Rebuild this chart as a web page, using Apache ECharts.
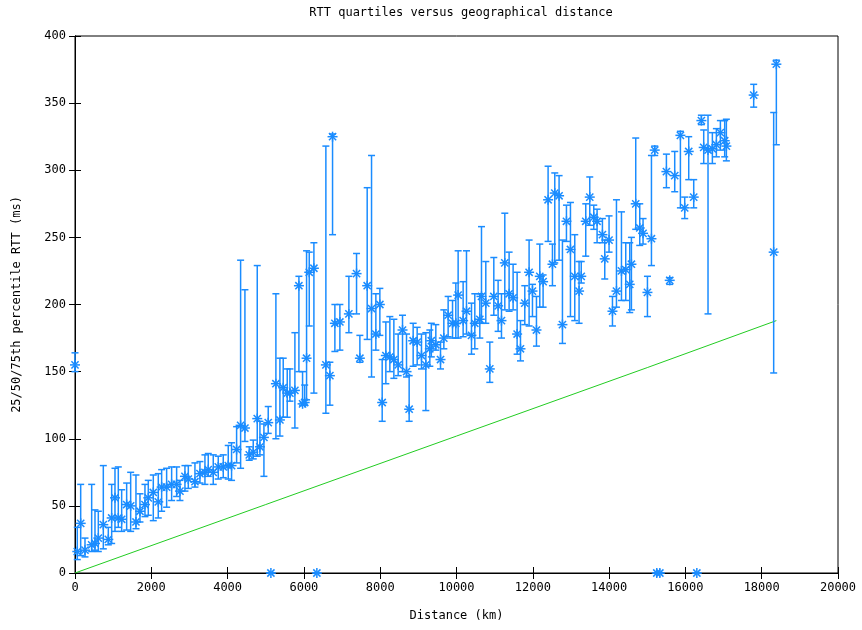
<!DOCTYPE html>
<html>
<head>
<meta charset="utf-8">
<script src="https://cdn.jsdelivr.net/npm/echarts@6/dist/echarts.min.js"></script>
<style>
  html, body { margin: 0; padding: 0; background: #fff; }
  #chart { width: 862px; height: 630px; }
</style>
</head>
<body>
<div id="chart"></div>
<script>
// distance (km) and RTT quartiles (ms)
var distKm = [0, 60, 149, 262, 437, 524, 611, 742, 873, 961, 1048, 1135, 1223, 1354, 1459, 1598, 1703, 1834, 1921, 2052,
  2183, 2271, 2402, 2533, 2664, 2751, 2882, 2970, 3144, 3275, 3406, 3493, 3624, 3755, 3886, 4017, 4104, 4236, 4341, 4454,
  4567, 4672, 4777, 4847, 4952, 5065, 5135, 5266, 5371, 5458, 5563, 5633, 5764, 5869, 5965, 6020, 6070, 6140, 6262, 6340,
  6576, 6681, 6751, 6812, 6943, 7179, 7380, 7467, 7659, 7773, 7886, 7991, 8052, 8148, 8253, 8358, 8471, 8585, 8690, 8759,
  8864, 8969, 9082, 9196, 9301, 9340, 9458, 9581, 9668, 9781, 9896, 9982, 10043, 10174, 10262, 10393, 10480, 10611, 10655, 10768,
  10873, 10978, 11091, 11179, 11266, 11379, 11484, 11589, 11677, 11790, 11903, 11991, 12096, 12183, 12270, 12401, 12515, 12576, 12689, 12777,
  12882, 12987, 13100, 13213, 13270, 13388, 13493, 13598, 13685, 13825, 13886, 13999, 14088, 14193, 14324, 14436, 14541, 14585, 14698, 14803,
  14890, 15005, 15110, 15196, 15250, 15330, 15502, 15589, 15720, 15869, 15982, 16087, 16218, 16300, 16419, 16480, 16593, 16707, 16812, 16917,
  17030, 17074, 17790, 18314, 18384];
var rttQ25 = [150, 10, 13, 12, 16, 17, 16, 18, 21, 22, 31, 34, 31, 32, 31, 33, 38, 42, 43, 39,
  41, 46, 49, 54, 57, 54, 61, 63, 64, 67, 66, 72, 66, 70, 71, 70, 69, 82, 78, 98,
  84, 85, 87, 88, 72, 104, 0, 100, 102, 116, 116, 128, 108, 150, 125, 125, 129, 184, 134, 0,
  119, 125, 252, 165, 166, 179, 193, 157, 174, 146, 166, 177, 113, 141, 150, 145, 147, 150, 146, 113,
  154, 155, 152, 121, 154, 161, 166, 152, 167, 176, 175, 175, 175, 176, 178, 163, 167, 175, 186, 186,
  142, 192, 180, 175, 196, 195, 196, 163, 158, 185, 184, 191, 169, 198, 198, 247, 214, 231, 233, 171,
  247, 191, 188, 186, 216, 236, 259, 256, 246, 246, 219, 239, 184, 198, 203, 203, 194, 196, 256, 244,
  245, 191, 229, 311, 0, 0, 287, 215, 284, 272, 264, 293, 272, 0, 334, 305, 193, 305, 310, 315,
  310, 307, 347, 149, 319];
var rttMedian = [155, 16, 37, 17, 21, 22, 26, 36, 25, 41, 56, 41, 40, 51, 50, 38, 46, 51, 56, 60,
  53, 64, 64, 66, 66, 61, 72, 70, 68, 74, 75, 77, 75, 79, 79, 80, 80, 92, 110, 108,
  88, 90, 115, 94, 101, 112, 0, 141, 114, 138, 134, 134, 136, 214, 126, 127, 160, 224, 227, 0,
  155, 147, 325, 186, 187, 193, 223, 160, 214, 197, 178, 200, 127, 162, 161, 159, 155, 181, 150, 122,
  173, 172, 162, 155, 167, 173, 170, 159, 175, 192, 186, 186, 207, 188, 195, 177, 186, 189, 206, 201,
  152, 206, 199, 188, 231, 208, 205, 178, 167, 201, 224, 210, 181, 221, 217, 278, 230, 283, 281, 185,
  262, 241, 221, 210, 221, 262, 280, 265, 262, 252, 234, 248, 195, 210, 225, 226, 215, 230, 275, 257,
  253, 209, 249, 315, 0, 0, 299, 218, 296, 326, 272, 314, 280, 0, 337, 317, 315, 316, 319, 328,
  322, 318, 356, 239, 379];
var rttQ75 = [164, 34, 66, 26, 66, 47, 46, 80, 34, 66, 78, 79, 62, 67, 75, 73, 59, 66, 69, 73,
  74, 77, 78, 79, 79, 69, 80, 80, 82, 83, 88, 89, 88, 87, 88, 95, 97, 109, 233, 211,
  94, 99, 229, 113, 111, 124, 0, 208, 160, 160, 152, 152, 179, 221, 150, 140, 240, 239, 246, 0,
  318, 157, 327, 200, 200, 221, 238, 177, 287, 311, 208, 212, 159, 187, 191, 189, 178, 192, 178, 147,
  186, 183, 178, 179, 181, 186, 185, 172, 196, 206, 203, 216, 240, 217, 240, 201, 208, 208, 258, 232,
  172, 235, 218, 208, 268, 239, 230, 224, 188, 214, 248, 215, 206, 245, 222, 303, 245, 298, 296, 248,
  274, 276, 252, 232, 232, 275, 295, 274, 271, 264, 248, 266, 206, 278, 269, 246, 246, 250, 324, 275,
  264, 221, 311, 318, 0, 0, 312, 220, 314, 329, 280, 325, 293, 0, 341, 330, 341, 328, 331, 337,
  337, 338, 364, 343, 382];

// lower bound line (green)
var boundKm = [0, 5000, 10000, 15000, 18384];
var boundMs = [0, 51, 102, 153, 188];

var xTicks = [0, 2000, 4000, 6000, 8000, 10000, 12000, 14000, 16000, 18000, 20000];
var yTicks = [0, 50, 100, 150, 200, 250, 300, 350, 400];

var blue = '#1a8cff';
var font = 'DejaVu Sans Mono';

var quartiles = distKm.map(function (d, i) {
  return [d, rttQ25[i], rttMedian[i], rttQ75[i]];
});
var bound = boundKm.map(function (d, i) { return [d, boundMs[i]]; });

function renderQuartile(params, api) {
  var x = api.value(0);
  var lo = api.coord([x, api.value(1)]);
  var mid = api.coord([x, api.value(2)]);
  var hi = api.coord([x, api.value(3)]);
  var cap = 3.5, r = 5, d = 3.6;
  var st = { stroke: blue, lineWidth: 1.5 };
  var seg = function (x1, y1, x2, y2) {
    return { type: 'line', shape: { x1: x1, y1: y1, x2: x2, y2: y2 }, style: st };
  };
  return {
    type: 'group',
    children: [
      seg(lo[0], lo[1], hi[0], hi[1]),
      seg(lo[0] - cap, lo[1], lo[0] + cap, lo[1]),
      seg(hi[0] - cap, hi[1], hi[0] + cap, hi[1]),
      seg(mid[0] - r, mid[1], mid[0] + r, mid[1]),
      seg(mid[0], mid[1] - r, mid[0], mid[1] + r),
      seg(mid[0] - d, mid[1] - d, mid[0] + d, mid[1] + d),
      seg(mid[0] - d, mid[1] + d, mid[0] + d, mid[1] - d)
    ]
  };
}

var axisText = { color: '#000', fontFamily: font, fontSize: 12 };
var tickStyle = { show: true, inside: true, length: 6, lineStyle: { color: '#000' } };

var chart = echarts.init(document.getElementById('chart'));
chart.setOption({
  animation: false,
  backgroundColor: '#fff',
  title: {
    text: 'RTT quartiles versus geographical distance',
    left: 456,
    top: 2,
    textAlign: 'center',
    textStyle: { color: '#000', fontFamily: font, fontSize: 12, fontWeight: 'normal' }
  },
  grid: { left: 75, right: 24, top: 36, bottom: 57, show: true, borderColor: '#000', borderWidth: 1 },
  xAxis: [{
    type: 'value', min: 0, max: 20000, interval: 2000,
    name: 'Distance (km)', nameLocation: 'middle', nameGap: 37,
    nameTextStyle: axisText,
    axisLine: { lineStyle: { color: '#000' } },
    axisTick: tickStyle,
    axisLabel: Object.assign({ margin: 9, formatter: function (v) { return String(v); } }, axisText),
    splitLine: { show: false }
  }, {
    type: 'value', min: 0, max: 20000, interval: 2000, position: 'top',
    axisLine: { lineStyle: { color: '#000' } },
    axisTick: tickStyle, axisLabel: { show: false }, splitLine: { show: false }
  }],
  yAxis: [{
    type: 'value', min: 0, max: 400, interval: 50,
    name: '25/50/75th percentile RTT (ms)', nameLocation: 'middle', nameGap: 52,
    nameTextStyle: axisText,
    axisLine: { show: true, lineStyle: { color: '#000' } },
    axisTick: tickStyle,
    axisLabel: Object.assign({ margin: 9, formatter: function (v) { return String(v); } }, axisText),
    splitLine: { show: false }
  }, {
    type: 'value', min: 0, max: 400, interval: 50, position: 'right',
    axisLine: { show: true, lineStyle: { color: '#000' } },
    axisTick: tickStyle, axisLabel: { show: false }, splitLine: { show: false }
  }],
  series: [{
    type: 'line',
    data: bound,
    symbol: 'none',
    lineStyle: { color: '#22cc22', width: 1 },
    z: 2
  }, {
    type: 'custom',
    renderItem: renderQuartile,
    data: quartiles,
    encode: { x: 0, y: [1, 2, 3] },
    clip: false,
    z: 3
  }]
});
</script>
</body>
</html>
